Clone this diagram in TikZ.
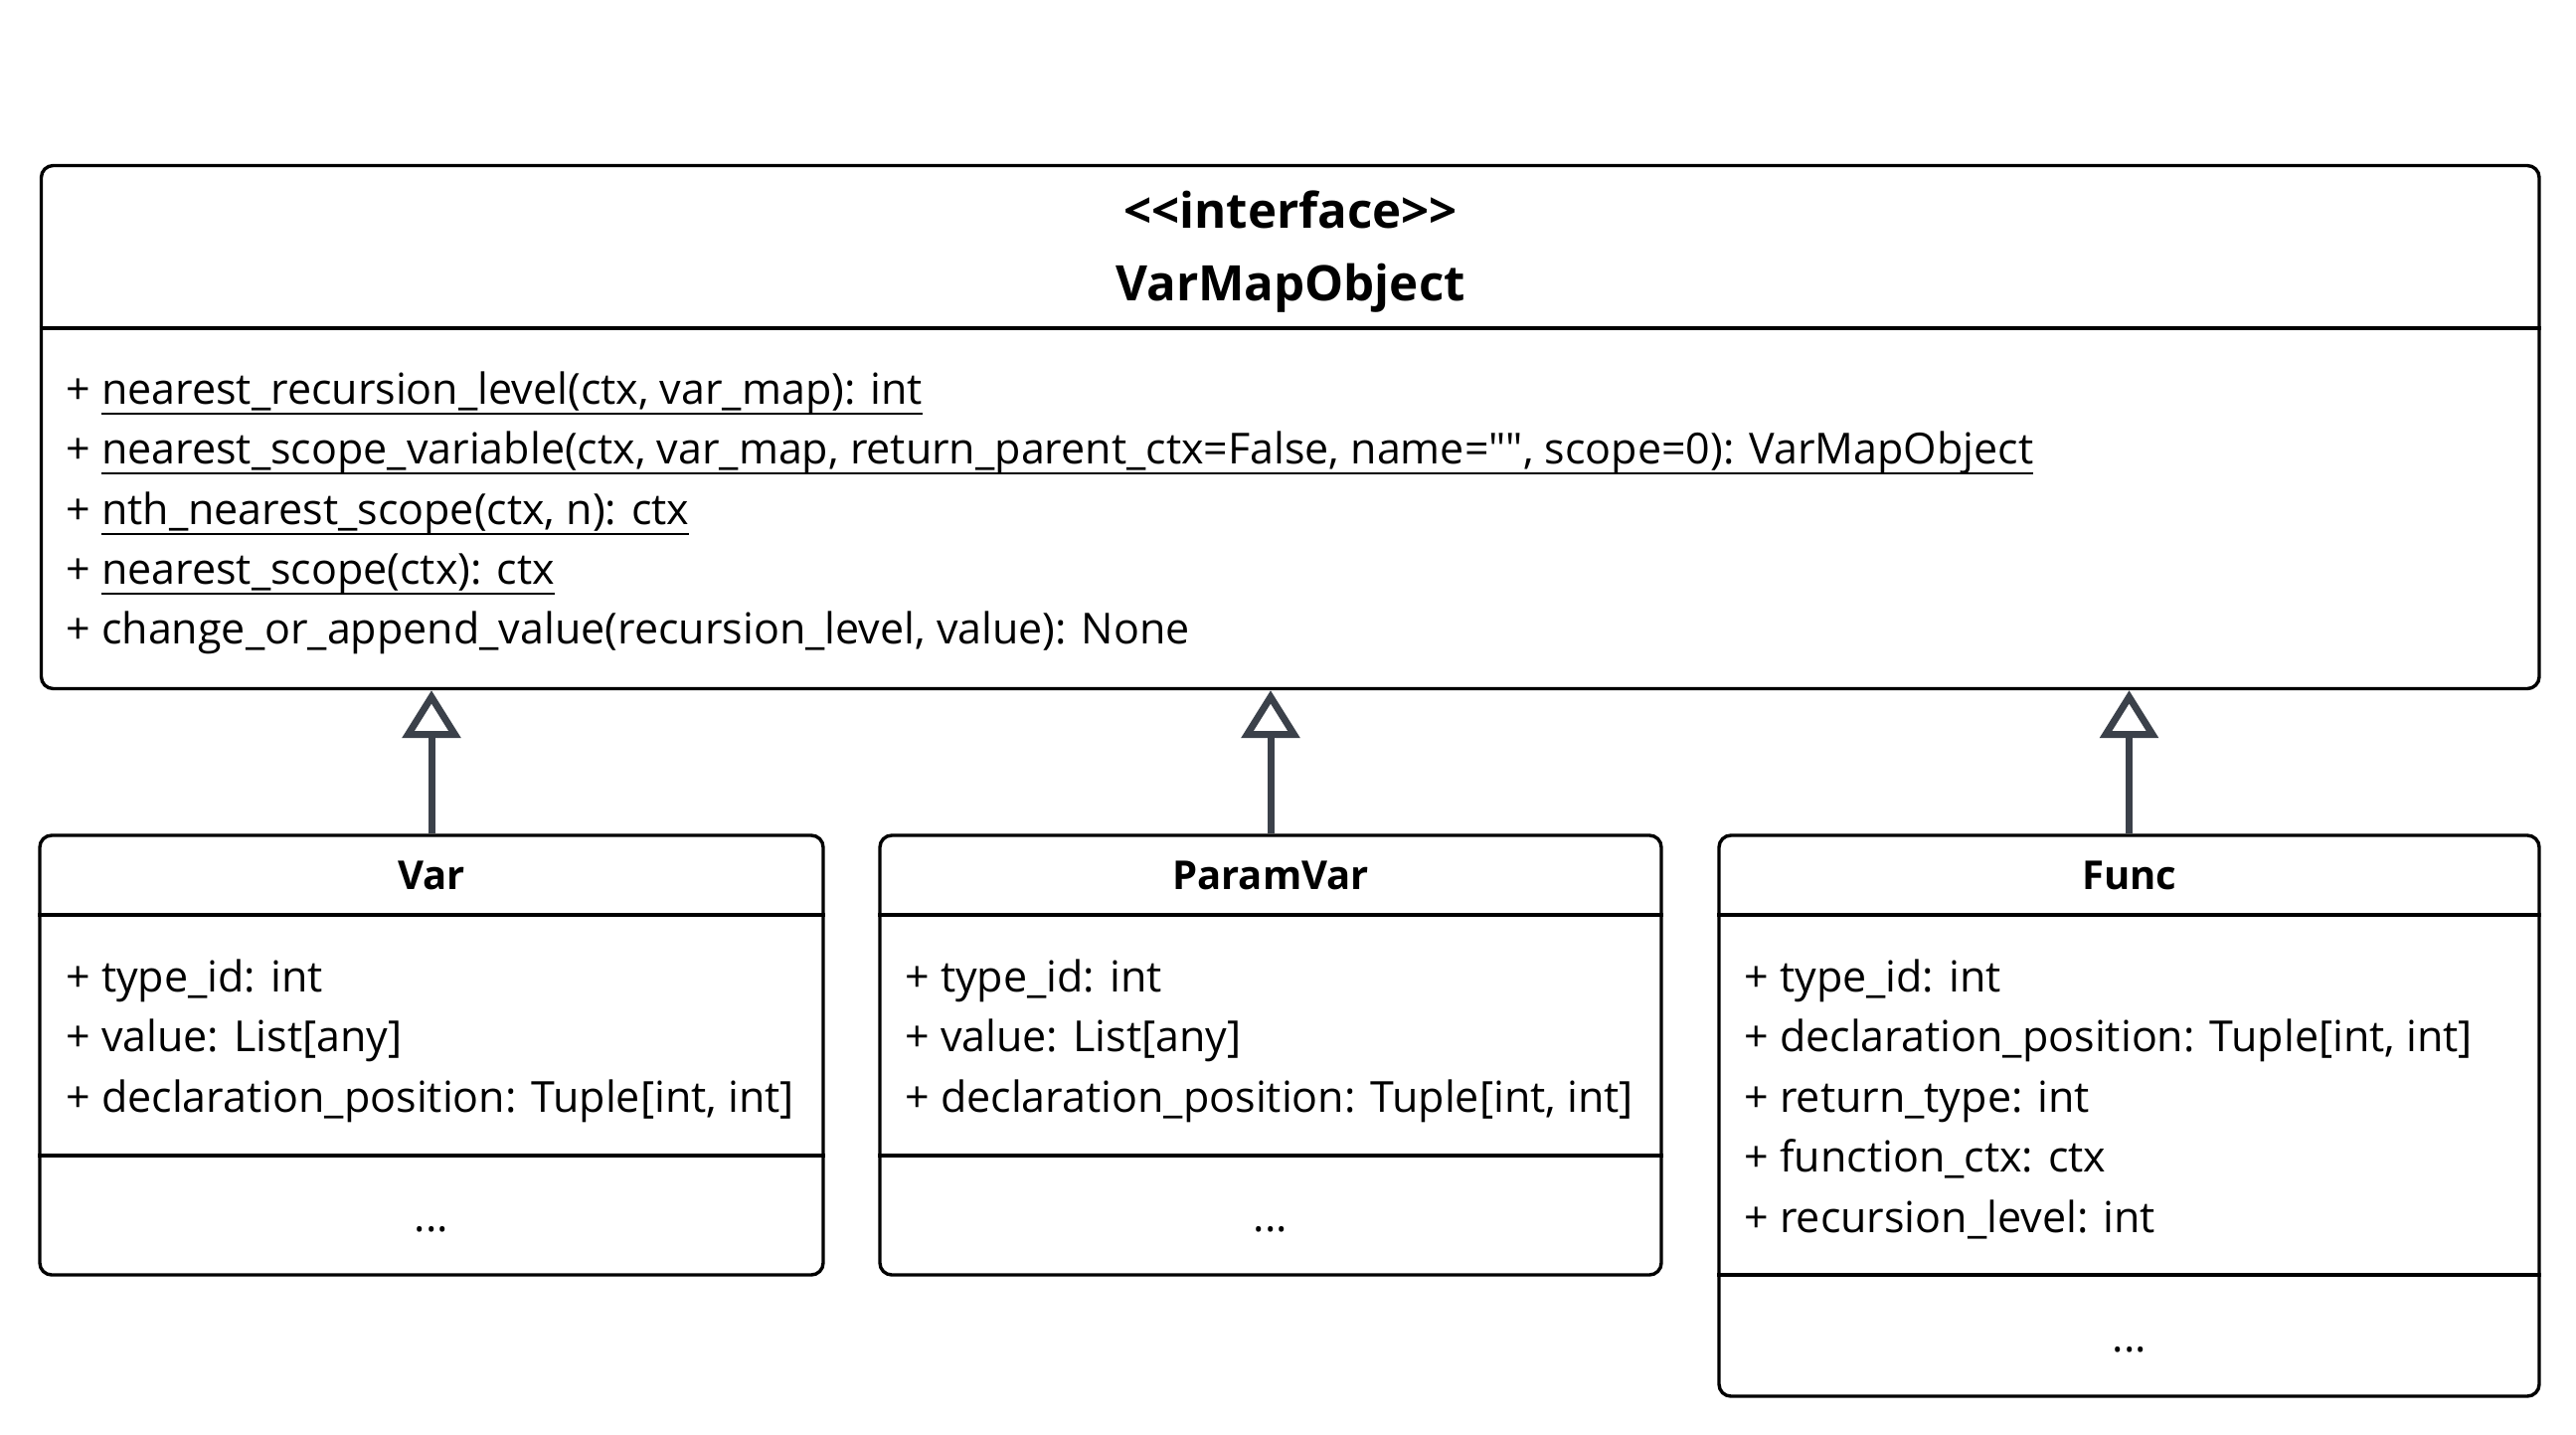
\documentclass[tikz,border=0pt]{standalone}
\usepackage{fontspec}
\setmainfont{Open Sans}[Ligatures=TeXOff]
\usetikzlibrary{arrows.meta,calc}
\definecolor{edgecol}{RGB}{59,65,74}
\newcommand\myul[1]{\setbox0\hbox{#1}\rlap{\rule[-5.25pt]{\wd0}{1pt}}\box0}
\begin{document}
\begin{tikzpicture}[x=0.5pt,y=-0.5pt,
  umlbox/.style={draw=black,line width=1.7pt,rounded corners=6pt,fill=white,inner sep=0pt},
  divider/.style={draw=black,line width=1.7pt},
  txt/.style={inner sep=0pt,anchor=base west,font=\fontsize{21.5pt}{26pt}\selectfont},
  ctxt/.style={inner sep=0pt,anchor=base,font=\fontsize{21.5pt}{26pt}\selectfont},
  ttl/.style={inner sep=0pt,anchor=base,font=\fontsize{20pt}{24pt}\selectfont\bfseries},
  bigttl/.style={inner sep=0pt,anchor=base,font=\fontsize{24.6pt}{28pt}\selectfont\bfseries},
  inh/.style={draw=edgecol,line width=3.5pt,-{Triangle[open,length=24pt,width=29pt]}}]
\useasboundingbox (0,0) rectangle (2591,1442);
% boxes
\node[umlbox,minimum width=1256.25pt,minimum height=263pt] (iface) at (1297.75,429.5) {};
\node[umlbox,minimum width=394pt,minimum height=221pt] (var) at (434,1061) {};
\node[umlbox,minimum width=393pt,minimum height=221pt] (pvar) at (1278,1061) {};
\node[umlbox,minimum width=412.5pt,minimum height=282pt] (func) at (2141.5,1122) {};
% dividers
\draw[divider] (iface.west |- 0,330) -- (iface.east |- 0,330);
\draw[divider] (var.west |- 0,920) -- (var.east |- 0,920);
\draw[divider] (var.west |- 0,1162) -- (var.east |- 0,1162);
\draw[divider] (pvar.west |- 0,920) -- (pvar.east |- 0,920);
\draw[divider] (pvar.west |- 0,1162) -- (pvar.east |- 0,1162);
\draw[divider] (func.west |- 0,920) -- (func.east |- 0,920);
\draw[divider] (func.west |- 0,1282) -- (func.east |- 0,1282);
% interface text
\node[bigttl] (st) at (1298,229) {<<interface>>};
\node[bigttl] (nm) at (1298,302) {VarMapObject};
\node[txt] (m1) at (66,406) {+ \myul{nearest\_recursion\_level(ctx, var\_map): int}};
\node[txt] (m2) at (66,466.5) {+ \myul{nearest\_scope\_variable(ctx, var\_map, return\_parent\_ctx=False, name="", scope=0): VarMapObject}};
\node[txt] (m3) at (66,527) {+ \myul{nth\_nearest\_scope(ctx, n): ctx}};
\node[txt] (m4) at (66,587) {+ \myul{nearest\_scope(ctx): ctx}};
\node[txt] (m5) at (66,647) {+ change\_or\_append\_value(recursion\_level, value): None};
% Var
\node[ttl] (vt) at (434,894) {Var};
\node[txt] (v1) at (66,997) {+ type\_id: int};
\node[txt] (v2) at (66,1057.5) {+ value: List[any]};
\node[txt] (v3) at (66,1118) {+ declaration\_position: Tuple[int, int]};
\node[ctxt] (vd) at (434,1238) {...};
% ParamVar
\node[ttl] (pt) at (1278,894) {ParamVar};
\node[txt] (p1) at (910,997) {+ type\_id: int};
\node[txt] (p2) at (910,1057.5) {+ value: List[any]};
\node[txt] (p3) at (910,1118) {+ declaration\_position: Tuple[int, int]};
\node[ctxt] (pd) at (1278,1238) {...};
% Func
\node[ttl] (ft) at (2142,894) {Func};
\node[txt] (f1) at (1754,997) {+ type\_id: int};
\node[txt] (f2) at (1754,1057.5) {+ declaration\_position: Tuple[int, int]};
\node[txt] (f3) at (1754,1118) {+ return\_type: int};
\node[txt] (f4) at (1754,1178.5) {+ function\_ctx: ctx};
\node[txt] (f5) at (1754,1239) {+ recursion\_level: int};
\node[ctxt] (fd) at (2142,1359) {...};
% inheritance
\draw[inh] (var.north) -- (var.north |- iface.south);
\draw[inh] (pvar.north) -- (pvar.north |- iface.south);
\draw[inh] (func.north) -- (func.north |- iface.south);
\end{tikzpicture}
\end{document}
